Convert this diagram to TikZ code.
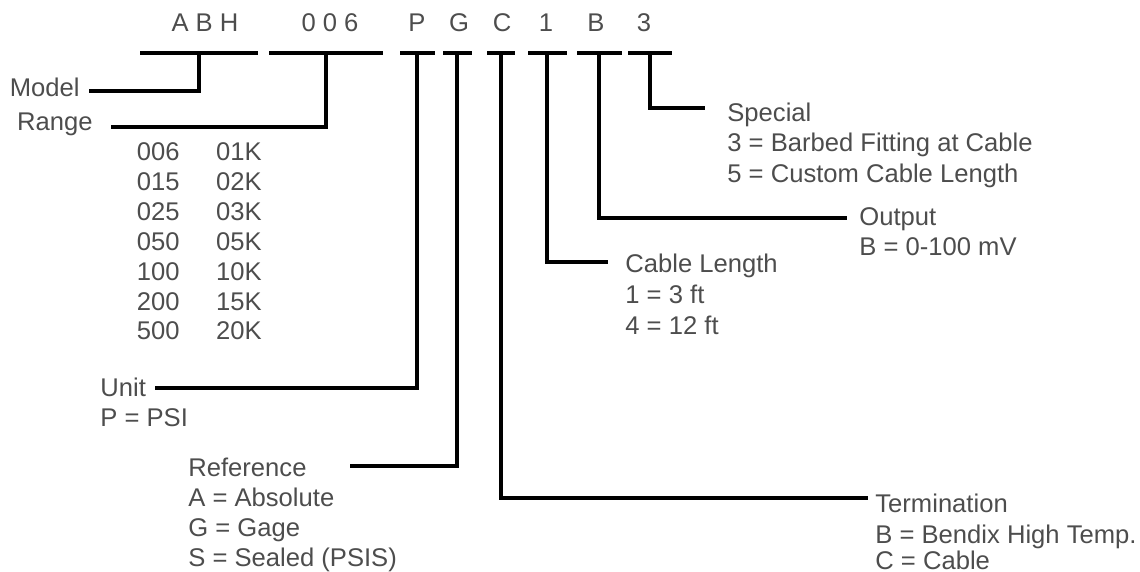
\documentclass[tikz,border=0pt]{standalone}
\usepackage{fontspec}
\setmainfont{Liberation Sans}
\usepackage{xcolor}
\usepackage{tikz}
\definecolor{txtgray}{HTML}{4D4D4D}

\begin{document}
\begin{tikzpicture}[x=0.5pt,y=-0.5pt,
    lbl/.style={text=txtgray,inner sep=0pt,anchor=base west,font=\fontsize{12.8}{15}\selectfont},
    code/.style={lbl,anchor=base},
    bar/.style={fill=black,inner sep=0pt,minimum height=2.4pt},
    lead/.style={line width=1.7pt}]
    \useasboundingbox (0,0) rectangle (1140,572);
    % code letters
    \node [code] (cABH) at (205,32) {A B H};
    \node [code] (cRng) at (330,32) {0 0 6};
    \node [code] (cP) at (417,32) {P};
    \node [code] (cG) at (459,32) {G};
    \node [code] (cC) at (502,32) {C};
    \node [code] (cOne) at (546,32) {1};
    \node [code] (cB) at (596,32) {B};
    \node [code] (cThree) at (644,32) {3};
    % bars under the letters
    \node [bar,minimum width=59pt] (bABH) at (199,53) {};
    \node [bar,minimum width=57pt] (bRng) at (326,53) {};
    \node [bar,minimum width=17.5pt] (bP) at (417,53) {};
    \node [bar,minimum width=14.5pt] (bG) at (457,53) {};
    \node [bar,minimum width=14pt] (bC) at (501,53) {};
    \node [bar,minimum width=19.5pt] (bOne) at (547,53) {};
    \node [bar,minimum width=22.5pt] (bB) at (599,53) {};
    \node [bar,minimum width=22pt] (bThree) at (650,53) {};
    % Model
    \node [lbl,anchor=base east] (model) at (80,97) {Model};
    \coordinate (eModel) at (89,91);
    \draw [lead] (bABH.center) |- (eModel);
    % Range
    \node [lbl,anchor=base east] (range) at (93,131) {Range};
    \coordinate (eRange) at (111,127);
    \draw [lead] (bRng.center) |- (eRange);
    \foreach \a/\b [count=\i from 0] in {006/01K,015/02K,025/03K,050/05K,100/10K,200/15K,500/20K} {
        \node [lbl,anchor=base east] (rngA\i) at (180,{161+29.8*\i}) {\a};
        \node [lbl,anchor=base east] (rngB\i) at (262,{161+29.8*\i}) {\b};
    }
    % Unit
    \node [lbl] (unit) at (100,396) {Unit};
    \node [lbl] (unitP) at (100,426) {P = PSI};
    \coordinate (eUnit) at (155,388);
    \draw [lead] (bP.center) |- (eUnit);
    % Reference
    \node [lbl] (refr) at (188,476) {Reference};
    \node [lbl] (refA) at (188,506) {A = Absolute};
    \node [lbl] (refG) at (188,536) {G = Gage};
    \node [lbl] (refS) at (188,566) {S = Sealed (PSIS)};
    \coordinate (eRef) at (350,466);
    \draw [lead] (bG.center) |- (eRef);
    % Termination
    \node [lbl] (term) at (875,512) {Termination};
    \node [lbl] (termB) at (875,543) {B = Bendix High Temp.};
    \node [lbl] (termC) at (875,569) {C = Cable};
    \coordinate (eTerm) at (868,498);
    \draw [lead] (bC.center) |- (eTerm);
    % Cable Length
    \node [lbl] (cable) at (625,272) {Cable Length};
    \node [lbl] (cableA) at (625,304) {1 = 3 ft};
    \node [lbl] (cableB) at (625,334) {4 = 12 ft};
    \coordinate (eCable) at (608,262);
    \draw [lead] (bOne.center) |- (eCable);
    % Output
    \node [lbl] (output) at (859,226) {Output};
    \node [lbl] (outputB) at (859,256) {B = 0-100 mV};
    \coordinate (eOutput) at (847,218);
    \draw [lead] (bB.center) |- (eOutput);
    % Special
    \node [lbl] (special) at (727,122) {Special};
    \node [lbl] (specialA) at (727,152) {3 = Barbed Fitting at Cable};
    \node [lbl] (specialB) at (727,183) {5 = Custom Cable Length};
    \coordinate (eSpecial) at (705,108);
    \draw [lead] (bThree.center) |- (eSpecial);
\end{tikzpicture}
\end{document}
